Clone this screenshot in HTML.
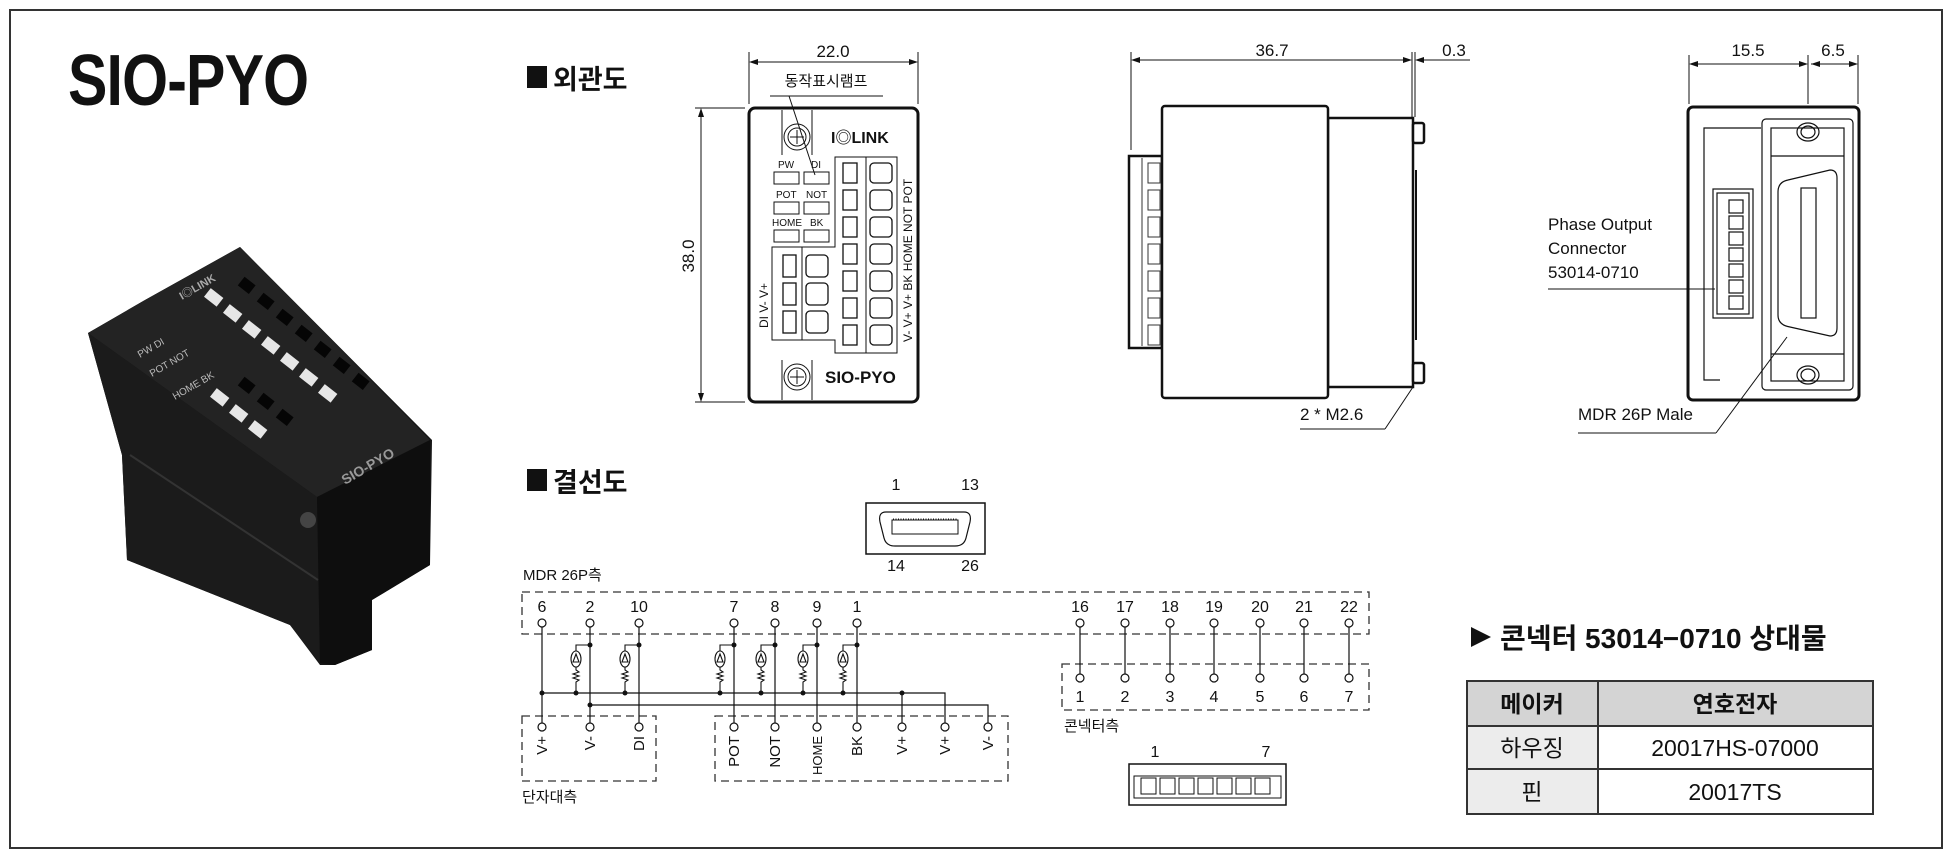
<!DOCTYPE html>
<html><head><meta charset="utf-8"><style>
html,body{margin:0;padding:0;background:#fff;}
svg{display:block;}
text{font-family:"Liberation Sans","Noto Sans CJK KR",sans-serif;fill:#111;}
</style></head><body>
<svg width="1960" height="854" viewBox="0 0 1960 854" xmlns="http://www.w3.org/2000/svg">
<rect x="10" y="10" width="1932" height="838" fill="none" stroke="#333" stroke-width="2"/>

<!-- Title -->
<text x="68" y="105" font-size="72" font-weight="bold" transform="translate(68,0) scale(0.82,1) translate(-68,0)" letter-spacing="-1">SIO-PYO</text>

<!-- Photo -->
<g>
<polygon points="88,333 145,300 240,247 432,440 430,565 372,600 372,650 335,665 320,665 290,625 127,560 122,455" fill="#161616"/>
<polygon points="88,333 145,300 240,247 430,440 317,497" fill="#232323"/>
<polygon points="88,333 317,497 320,663 290,625 127,560 122,455" fill="#1b1b1b"/>
<polygon points="317,497 430,440 430,565 372,600 372,650 335,665 320,663" fill="#0e0e0e"/>
<line x1="130" y1="455" x2="318" y2="580" stroke="#333" stroke-width="2"/>
<g fill="#e6e6e6">
<rect x="206" y="292" width="16" height="11" transform="rotate(38 214 297)"/>
<rect x="225" y="308" width="16" height="11" transform="rotate(38 233 313)"/>
<rect x="244" y="324" width="16" height="11" transform="rotate(38 252 329)"/>
<rect x="263" y="340" width="16" height="11" transform="rotate(38 271 345)"/>
<rect x="282" y="356" width="16" height="11" transform="rotate(38 290 361)"/>
<rect x="301" y="372" width="16" height="11" transform="rotate(38 309 377)"/>
<rect x="320" y="388" width="16" height="11" transform="rotate(38 328 393)"/>
<rect x="212" y="392" width="16" height="11" transform="rotate(38 220 397)"/>
<rect x="231" y="408" width="16" height="11" transform="rotate(38 239 413)"/>
<rect x="250" y="424" width="16" height="11" transform="rotate(38 258 429)"/>
</g>
<g fill="#050505">
<rect x="240" y="280" width="14" height="11" transform="rotate(38 247 285)"/>
<rect x="259" y="296" width="14" height="11" transform="rotate(38 266 301)"/>
<rect x="278" y="312" width="14" height="11" transform="rotate(38 285 317)"/>
<rect x="297" y="328" width="14" height="11" transform="rotate(38 304 333)"/>
<rect x="316" y="344" width="14" height="11" transform="rotate(38 323 349)"/>
<rect x="335" y="360" width="14" height="11" transform="rotate(38 342 365)"/>
<rect x="354" y="376" width="14" height="11" transform="rotate(38 361 381)"/>
<rect x="240" y="380" width="14" height="11" transform="rotate(38 247 385)"/>
<rect x="259" y="396" width="14" height="11" transform="rotate(38 266 401)"/>
<rect x="278" y="412" width="14" height="11" transform="rotate(38 285 417)"/>
</g>
<g font-size="10">
<text x="140" y="358" transform="rotate(-30 140 358)" style="fill:#bbb">PW  DI</text>
<text x="152" y="377" transform="rotate(-30 152 377)" style="fill:#bbb">POT NOT</text>
<text x="175" y="400" transform="rotate(-30 175 400)" style="fill:#bbb">HOME BK</text>
<text x="345" y="485" font-size="14" font-weight="bold" transform="rotate(-30 345 485)" style="fill:#999">SIO-PYO</text>
<text x="182" y="300" font-size="11" font-weight="bold" transform="rotate(-30 182 300)" style="fill:#aaa">I◎LINK</text>
</g>
<circle cx="308" cy="520" r="8" fill="#444"/>
</g>

<!-- Headings -->
<rect x="527" y="66" width="20" height="22" fill="#111"/>
<text x="553" y="89" font-size="27" font-weight="bold">외관도</text>
<rect x="527" y="469" width="20" height="22" fill="#111"/>
<text x="553" y="492" font-size="27" font-weight="bold">결선도</text>

<!-- Front view -->
<g stroke="#111" fill="none" stroke-width="1">
<line x1="749" y1="52" x2="749" y2="104"/><line x1="918" y1="52" x2="918" y2="104"/>
<line x1="752" y1="62" x2="915" y2="62"/>
<line x1="695" y1="108" x2="745" y2="108"/><line x1="695" y1="402" x2="745" y2="402"/>
<line x1="701" y1="111" x2="701" y2="399"/>
<line x1="770" y1="96" x2="883" y2="96"/>
<line x1="789" y1="96" x2="815" y2="175"/>
</g>
<polygon points="749,62 758,59 758,65" fill="#111"/><polygon points="918,62 909,59 909,65" fill="#111"/>
<polygon points="701,108 698,117 704,117" fill="#111"/><polygon points="701,402 698,393 704,393" fill="#111"/>
<text x="833" y="57" font-size="17" text-anchor="middle">22.0</text>
<text x="826" y="86" font-size="15" text-anchor="middle">동작표시램프</text>
<text x="694" y="256" font-size="17" text-anchor="middle" transform="rotate(-90 694 256)">38.0</text>
<rect x="749" y="108" width="169" height="294" rx="6" fill="none" stroke="#111" stroke-width="3"/>
<g stroke="#111" fill="none" stroke-width="1">
<line x1="782" y1="110" x2="782" y2="155"/><line x1="812" y1="110" x2="812" y2="155"/>
<circle cx="797" cy="137" r="13"/><circle cx="797" cy="137" r="9"/>
<line x1="790" y1="137" x2="804" y2="137"/><line x1="797" y1="130" x2="797" y2="144"/>
<line x1="782" y1="360" x2="782" y2="400"/><line x1="812" y1="360" x2="812" y2="400"/>
<circle cx="797" cy="377" r="13"/><circle cx="797" cy="377" r="9"/>
<line x1="790" y1="377" x2="804" y2="377"/><line x1="797" y1="370" x2="797" y2="384"/>
<rect x="774" y="172" width="25" height="12"/><rect x="804" y="172" width="25" height="12"/>
<rect x="774" y="202" width="25" height="12"/><rect x="804" y="202" width="25" height="12"/>
<rect x="774" y="230" width="25" height="12"/><rect x="804" y="230" width="25" height="12"/>
<path d="M835,157 L897,157 L897,353 L835,353 L835,340 L772,340 L772,247 L835,247Z"/>
<line x1="866" y1="157" x2="866" y2="353"/>
<line x1="802" y1="247" x2="802" y2="340"/>
</g>
<g stroke="#111" fill="none" stroke-width="1.3">
<rect x="870" y="163" width="22" height="20" rx="4"/><rect x="870" y="190" width="22" height="20" rx="4"/>
<rect x="870" y="217" width="22" height="20" rx="4"/><rect x="870" y="244" width="22" height="20" rx="4"/>
<rect x="870" y="271" width="22" height="20" rx="4"/><rect x="870" y="298" width="22" height="20" rx="4"/>
<rect x="870" y="325" width="22" height="20" rx="4"/>
<rect x="806" y="255" width="22" height="22" rx="4"/><rect x="806" y="283" width="22" height="22" rx="4"/><rect x="806" y="311" width="22" height="22" rx="4"/>
<rect x="843" y="163" width="14" height="20"/><rect x="843" y="190" width="14" height="20"/><rect x="843" y="217" width="14" height="20"/><rect x="843" y="244" width="14" height="20"/><rect x="843" y="271" width="14" height="20"/><rect x="843" y="298" width="14" height="20"/><rect x="843" y="325" width="14" height="20"/>
<rect x="783" y="255" width="13" height="22"/><rect x="783" y="283" width="13" height="22"/><rect x="783" y="311" width="13" height="22"/>
</g>
<text x="831" y="143" font-size="16" font-weight="bold">I◎LINK</text>
<g font-size="10">
<text x="778" y="168">PW</text><text x="811" y="168">DI</text>
<text x="776" y="198">POT</text><text x="806" y="198">NOT</text>
<text x="772" y="226">HOME</text><text x="810" y="226">BK</text>
</g>
<g font-size="12">
<text x="912" y="342" transform="rotate(-90 912 342)">V-   V+   V+   BK HOME NOT POT</text>
<text x="768" y="328" transform="rotate(-90 768 328)">DI   V-   V+</text>
</g>
<text x="825" y="383" font-size="17" font-weight="bold">SIO-PYO</text>

<!-- Side view -->
<g stroke="#111" fill="none" stroke-width="1">
<line x1="1131" y1="52" x2="1131" y2="150"/><line x1="1412" y1="52" x2="1412" y2="117"/><line x1="1415" y1="52" x2="1415" y2="117"/>
<line x1="1134" y1="60" x2="1409" y2="60"/>
<line x1="1418" y1="60" x2="1470" y2="60"/>
<line x1="1300" y1="429" x2="1385" y2="429"/><line x1="1385" y1="429" x2="1413" y2="387"/>
</g>
<polygon points="1131,60 1140,57 1140,63" fill="#111"/><polygon points="1412,60 1403,57 1403,63" fill="#111"/>
<polygon points="1415,60 1424,57 1424,63" fill="#111"/>
<text x="1272" y="56" font-size="17" text-anchor="middle">36.7</text>
<text x="1454" y="56" font-size="17" text-anchor="middle">0.3</text>
<text x="1300" y="420" font-size="17">2 * M2.6</text>
<g stroke="#111" fill="#fff" stroke-width="2.5">
<rect x="1129" y="156" width="33" height="192"/>
<rect x="1328" y="118" width="85" height="269"/>
<rect x="1162" y="106" width="166" height="292" rx="3"/>
<rect x="1413" y="123" width="11" height="20" rx="2"/>
<rect x="1413" y="363" width="11" height="20" rx="2"/>
</g>
<line x1="1416" y1="170" x2="1416" y2="340" stroke="#111" stroke-width="2"/>
<g stroke="#333" fill="none" stroke-width="1">
<line x1="1142" y1="158" x2="1142" y2="346"/>
<rect x="1148" y="163" width="12" height="20"/><rect x="1148" y="190" width="12" height="20"/><rect x="1148" y="217" width="12" height="20"/><rect x="1148" y="244" width="12" height="20"/><rect x="1148" y="271" width="12" height="20"/><rect x="1148" y="298" width="12" height="20"/><rect x="1148" y="325" width="12" height="20"/>
</g>

<!-- Right view -->
<g stroke="#111" fill="none" stroke-width="1">
<line x1="1689" y1="55" x2="1689" y2="104"/><line x1="1808" y1="55" x2="1808" y2="104"/><line x1="1858" y1="55" x2="1858" y2="104"/>
<line x1="1692" y1="64" x2="1805" y2="64"/><line x1="1811" y1="64" x2="1855" y2="64"/>
<line x1="1548" y1="289" x2="1715" y2="289"/>
<line x1="1578" y1="433" x2="1716" y2="433"/><line x1="1716" y1="433" x2="1787" y2="337"/>
</g>
<polygon points="1689,64 1698,61 1698,67" fill="#111"/><polygon points="1808,64 1799,61 1799,67" fill="#111"/>
<polygon points="1811,64 1820,61 1820,67" fill="#111"/><polygon points="1858,64 1849,61 1849,67" fill="#111"/>
<text x="1748" y="56" font-size="17" text-anchor="middle">15.5</text>
<text x="1833" y="56" font-size="17" text-anchor="middle">6.5</text>
<rect x="1688" y="107" width="171" height="293" rx="5" fill="none" stroke="#111" stroke-width="3"/>
<g stroke="#111" fill="none" stroke-width="1.2">
<path d="M1720,380 L1704,380 L1704,128 L1761,128"/>
<rect x="1762" y="119" width="91" height="271" rx="4"/>
<rect x="1771" y="128" width="73" height="253"/>
<line x1="1771" y1="156" x2="1844" y2="156"/><line x1="1771" y1="354" x2="1844" y2="354"/>
<ellipse cx="1808" cy="132" rx="11" ry="9"/><ellipse cx="1808" cy="132" rx="7" ry="6"/>
<ellipse cx="1808" cy="375" rx="11" ry="9"/><ellipse cx="1808" cy="375" rx="7" ry="6"/>
<path d="M1788,180 L1830,170 Q1837,170 1837,178 L1837,328 Q1837,336 1830,336 L1790,327 Q1778,325 1778,315 L1778,192 Q1778,182 1788,180Z"/>
<rect x="1801" y="188" width="15" height="130"/>
<rect x="1713" y="189" width="40" height="129"/>
<rect x="1717" y="193" width="32" height="121"/>
<rect x="1729" y="200" width="14" height="13"/><rect x="1729" y="216" width="14" height="13"/><rect x="1729" y="232" width="14" height="13"/><rect x="1729" y="248" width="14" height="13"/><rect x="1729" y="264" width="14" height="13"/><rect x="1729" y="280" width="14" height="13"/><rect x="1729" y="296" width="14" height="13"/>
</g>
<g font-size="17">
<text x="1548" y="230">Phase Output</text>
<text x="1548" y="254">Connector</text>
<text x="1548" y="278">53014-0710</text>
<text x="1578" y="420">MDR 26P Male</text>
</g>

<!-- MDR connector picture -->
<rect x="866" y="503" width="119" height="51" fill="none" stroke="#111" stroke-width="1.5"/>
<path d="M886,512 L964,512 Q972,512 970,522 L966,538 Q964,546 955,546 L895,546 Q886,546 884,538 L880,522 Q878,512 886,512Z" fill="none" stroke="#111" stroke-width="1.2"/>
<rect x="892" y="520" width="66" height="14" fill="none" stroke="#111"/>
<line x1="893" y1="519" x2="957" y2="519" stroke="#111" stroke-dasharray="1 1.5"/>
<text x="896" y="490" font-size="16" text-anchor="middle">1</text>
<text x="970" y="490" font-size="16" text-anchor="middle">13</text>
<text x="896" y="571" font-size="16" text-anchor="middle">14</text>
<text x="970" y="571" font-size="16" text-anchor="middle">26</text>

<!-- Wiring -->
<text x="523" y="580" font-size="15">MDR 26P측</text>
<g fill="none" stroke="#333" stroke-width="1.3" stroke-dasharray="8 5">
<rect x="522" y="592" width="847" height="42"/>
<rect x="522" y="716" width="134" height="65"/>
<rect x="715" y="716" width="293" height="65"/>
<rect x="1062" y="664" width="307" height="46"/>
</g>
<g font-size="16" text-anchor="middle">
<text x="542" y="612">6</text><text x="590" y="612">2</text><text x="639" y="612">10</text>
<text x="734" y="612">7</text><text x="775" y="612">8</text><text x="817" y="612">9</text><text x="857" y="612">1</text>
<text x="1080" y="612">16</text><text x="1125" y="612">17</text><text x="1170" y="612">18</text><text x="1214" y="612">19</text><text x="1260" y="612">20</text><text x="1304" y="612">21</text><text x="1349" y="612">22</text>
<text x="1080" y="702">1</text><text x="1125" y="702">2</text><text x="1170" y="702">3</text><text x="1214" y="702">4</text><text x="1260" y="702">5</text><text x="1304" y="702">6</text><text x="1349" y="702">7</text>
</g>
<g stroke="#111" stroke-width="1.2" fill="none">
<line x1="542" y1="627" x2="542" y2="723"/><line x1="590" y1="627" x2="590" y2="723"/><line x1="639" y1="627" x2="639" y2="723"/>
<line x1="734" y1="627" x2="734" y2="723"/><line x1="775" y1="627" x2="775" y2="723"/><line x1="817" y1="627" x2="817" y2="723"/><line x1="857" y1="627" x2="857" y2="723"/>
<line x1="1080" y1="627" x2="1080" y2="674"/><line x1="1125" y1="627" x2="1125" y2="674"/><line x1="1170" y1="627" x2="1170" y2="674"/><line x1="1214" y1="627" x2="1214" y2="674"/><line x1="1260" y1="627" x2="1260" y2="674"/><line x1="1304" y1="627" x2="1304" y2="674"/><line x1="1349" y1="627" x2="1349" y2="674"/>
<polyline points="542,693 945,693 945,723"/>
<line x1="902" y1="693" x2="902" y2="723"/>
<polyline points="590,705 988,705 988,723"/>
</g>
<g fill="#fff" stroke="#111" stroke-width="1.2">
<circle cx="542" cy="623" r="4"/><circle cx="590" cy="623" r="4"/><circle cx="639" cy="623" r="4"/>
<circle cx="734" cy="623" r="4"/><circle cx="775" cy="623" r="4"/><circle cx="817" cy="623" r="4"/><circle cx="857" cy="623" r="4"/>
<circle cx="1080" cy="623" r="4"/><circle cx="1125" cy="623" r="4"/><circle cx="1170" cy="623" r="4"/><circle cx="1214" cy="623" r="4"/><circle cx="1260" cy="623" r="4"/><circle cx="1304" cy="623" r="4"/><circle cx="1349" cy="623" r="4"/>
<circle cx="1080" cy="678" r="4"/><circle cx="1125" cy="678" r="4"/><circle cx="1170" cy="678" r="4"/><circle cx="1214" cy="678" r="4"/><circle cx="1260" cy="678" r="4"/><circle cx="1304" cy="678" r="4"/><circle cx="1349" cy="678" r="4"/>
<circle cx="542" cy="727" r="4"/><circle cx="590" cy="727" r="4"/><circle cx="639" cy="727" r="4"/>
<circle cx="734" cy="727" r="4"/><circle cx="775" cy="727" r="4"/><circle cx="817" cy="727" r="4"/><circle cx="857" cy="727" r="4"/><circle cx="902" cy="727" r="4"/><circle cx="945" cy="727" r="4"/><circle cx="988" cy="727" r="4"/>
</g>
<g stroke="#111" stroke-width="1.1" fill="none">
<g id="br"><polyline points="590,645 576,645 576,651"/><ellipse cx="576" cy="659" rx="5" ry="8"/><path d="M573,662 L576,654 L579,662Z"/><polyline points="576,667 576,670 579,672 573,674 579,676 573,678 579,680 576,682 576,693"/></g>
<use href="#br" x="49"/><use href="#br" x="144"/><use href="#br" x="185"/><use href="#br" x="227"/><use href="#br" x="267"/>
</g>
<g fill="#111">
<circle cx="590" cy="645" r="2.5"/><circle cx="639" cy="645" r="2.5"/><circle cx="734" cy="645" r="2.5"/><circle cx="775" cy="645" r="2.5"/><circle cx="817" cy="645" r="2.5"/><circle cx="857" cy="645" r="2.5"/>
<circle cx="542" cy="693" r="2.5"/><circle cx="576" cy="693" r="2.5"/><circle cx="625" cy="693" r="2.5"/><circle cx="720" cy="693" r="2.5"/><circle cx="761" cy="693" r="2.5"/><circle cx="803" cy="693" r="2.5"/><circle cx="843" cy="693" r="2.5"/><circle cx="902" cy="693" r="2.5"/>
<circle cx="590" cy="705" r="2.5"/>
</g>
<g font-size="15" text-anchor="end">
<text x="547" y="736" transform="rotate(-90 547 736)">V+</text>
<text x="595" y="736" transform="rotate(-90 595 736)">V-</text>
<text x="644" y="736" transform="rotate(-90 644 736)">DI</text>
<text x="739" y="736" transform="rotate(-90 739 736)">POT</text>
<text x="780" y="736" transform="rotate(-90 780 736)">NOT</text>
<text x="822" y="736" transform="rotate(-90 822 736)" font-size="13">HOME</text>
<text x="862" y="736" transform="rotate(-90 862 736)">BK</text>
<text x="907" y="736" transform="rotate(-90 907 736)">V+</text>
<text x="950" y="736" transform="rotate(-90 950 736)">V+</text>
<text x="993" y="736" transform="rotate(-90 993 736)">V-</text>
</g>
<text x="522" y="802" font-size="15">단자대측</text>
<text x="1064" y="731" font-size="15">콘넥터측</text>
<text x="1155" y="757" font-size="16" text-anchor="middle">1</text>
<text x="1266" y="757" font-size="16" text-anchor="middle">7</text>
<rect x="1129" y="764" width="157" height="41" fill="none" stroke="#111" stroke-width="1.5"/>
<path d="M1134,776 L1281,776 L1281,798 L1134,798Z" fill="none" stroke="#111"/>
<g fill="none" stroke="#111" stroke-width="1">
<rect x="1141" y="778" width="15" height="16"/><rect x="1160" y="778" width="15" height="16"/><rect x="1179" y="778" width="15" height="16"/><rect x="1198" y="778" width="15" height="16"/><rect x="1217" y="778" width="15" height="16"/><rect x="1236" y="778" width="15" height="16"/><rect x="1255" y="778" width="15" height="16"/>
</g>

<!-- Table -->
<polygon points="1471,627 1491,637 1471,647" fill="#111"/>
<text x="1500" y="648" font-size="28" font-weight="bold">콘넥터 53014−0710 상대물</text>
<rect x="1467" y="681" width="406" height="45" fill="#d4d4d4"/>
<rect x="1467" y="726" width="131" height="88" fill="#ececec"/>
<g stroke="#333" stroke-width="2" fill="none">
<rect x="1467" y="681" width="406" height="133"/>
<line x1="1598" y1="681" x2="1598" y2="814"/>
<line x1="1467" y1="726" x2="1873" y2="726"/>
<line x1="1467" y1="769" x2="1873" y2="769"/>
</g>
<g font-size="23" text-anchor="middle">
<text x="1532" y="712" font-weight="bold">메이커</text>
<text x="1735" y="712" font-weight="bold">연호전자</text>
<text x="1532" y="756">하우징</text>
<text x="1735" y="756">20017HS-07000</text>
<text x="1532" y="800">핀</text>
<text x="1735" y="800">20017TS</text>
</g>
</svg>
</body></html>
